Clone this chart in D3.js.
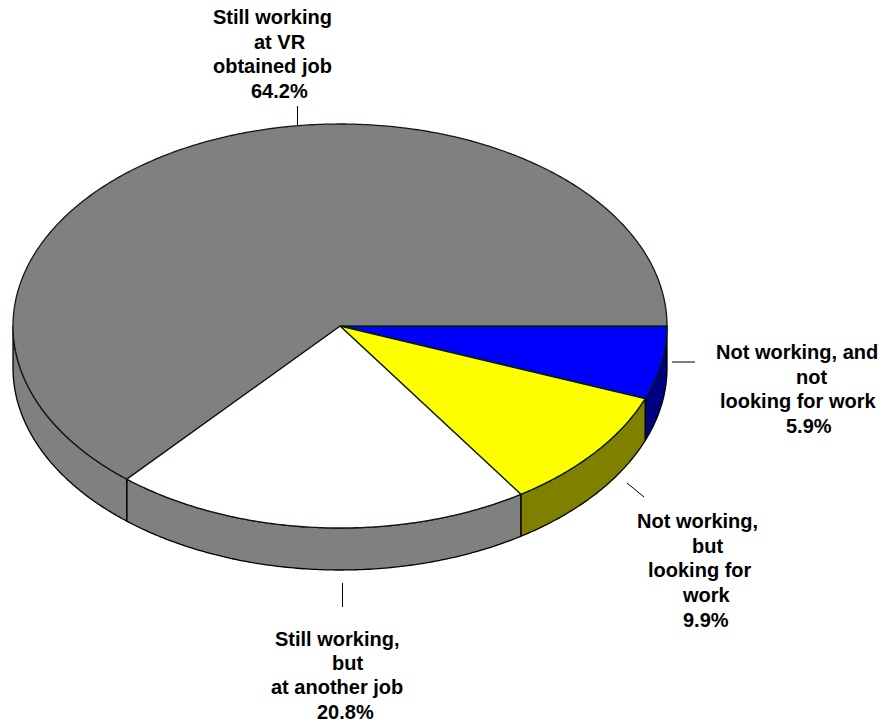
<!DOCTYPE html>
<html><head><meta charset="utf-8">
<script src="https://cdn.jsdelivr.net/npm/d3@7"></script>
<style>html,body{margin:0;padding:0;background:#fff}svg{display:block}
text{font-family:"Liberation Sans",Arial,sans-serif;font-weight:bold;font-size:20px;fill:#000}</style>
</head><body><div id="c"></div>
<script>
const categories=["Not working, and not looking for work","Not working, but looking for work","Still working, but at another job","Still working at VR obtained job"];
const values=[5.9,9.9,20.8,64.2];
const topColors=["#0000ff","#ffff00","#ffffff","#808080"];
const sideColors=["#000080","#808000","#808080","#808080"];
const labelLines=[
 [["Not working, and",716],["not",796],["looking for work",720],["5.9%",786]],
 [["Not working,",637],["but",692],["looking for",648],["work",683],["9.9%",683]],
 [["Still working,",275],["but",332],["at another job",271],["20.8%",317]],
 [["Still working",213],["at VR",254],["obtained job",213],["64.2%",251]]];
const labelTops=[359,528,646,24];
const lineH=[24.5,24.7,24.2,24.5];
const W=885,H=722,cx=340,cy=326,rx=327,ry=202,depth=42;
const svg=d3.select("#c").append("svg").attr("width",W).attr("height",H);
const pie=d3.pie().sort(null).startAngle(Math.PI/2).endAngle(Math.PI/2+2*Math.PI);
const arcs=pie(values);
const X=d3.scaleLinear().domain([-1,1]).range([cx-rx,cx+rx]);
const Y=d3.scaleLinear().domain([-1,1]).range([cy-ry,cy+ry]);
const px=a=>X(Math.sin(a)),py=a=>Y(-Math.cos(a));
function ell(a0,a1,dy){
  const p=d3.path();
  const steps=Math.max(2,Math.ceil(Math.abs(a1-a0)/0.01));
  d3.range(steps+1).forEach(i=>{const a=a0+(a1-a0)*i/steps;
    i?p.lineTo(px(a),py(a)+dy):p.moveTo(px(a),py(a)+dy);});
  return p.toString();
}
const vis0=Math.PI/2,vis1=3*Math.PI/2;
arcs.forEach(d=>{
  const a0=Math.max(d.startAngle,vis0),a1=Math.min(d.endAngle,vis1);
  if(a1<=a0)return;
  const top=ell(a0,a1,0);
  const bot=ell(a1,a0,depth).replace(/^M/,"L");
  svg.append("path").attr("d",top+bot+"Z").attr("fill",sideColors[d.index]).attr("stroke","#000").attr("stroke-width",1.3);
});
arcs.forEach(d=>{
  svg.append("path").attr("d",`M${cx},${cy}`+ell(d.startAngle,d.endAngle,0).replace(/^M/,"L")+"Z")
    .attr("fill",topColors[d.index]).attr("stroke","#062006").attr("stroke-width",1.3);
});
const leaders=[[672,362,695,362],[627,483,644,497],[342.5,583,342.5,607],[297.5,106,297.5,125]];
leaders.forEach(l=>svg.append("line").attr("x1",l[0]).attr("y1",l[1]).attr("x2",l[2]).attr("y2",l[3]).attr("stroke","#000").attr("stroke-width",1));
labelLines.forEach((ls,i)=>ls.forEach((t,j)=>{
  svg.append("text").attr("x",t[1]).attr("y",labelTops[i]+j*lineH[i]).text(t[0]);
}));
</script></body></html>
